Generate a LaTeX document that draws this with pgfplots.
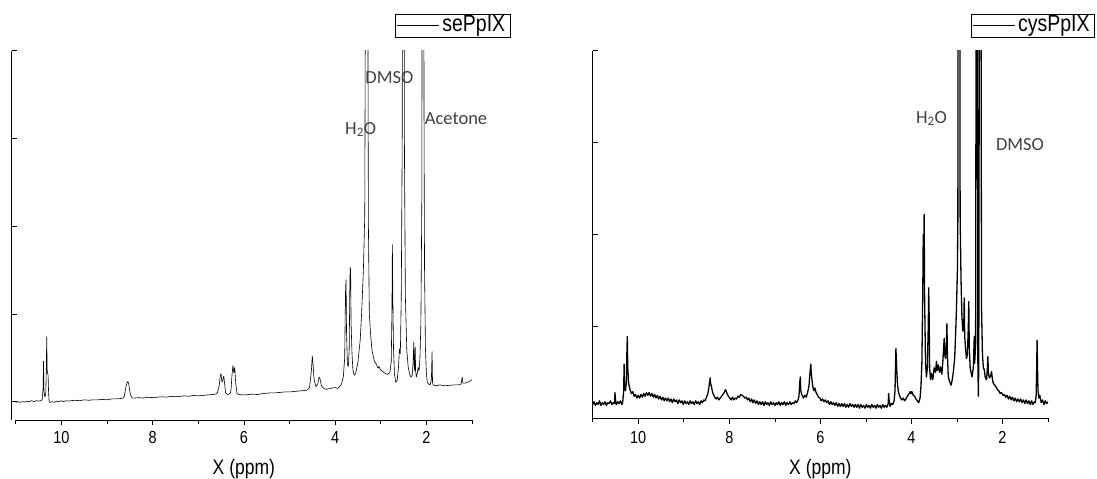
\documentclass[border=0pt]{standalone}
\usepackage{fontspec}
\setmainfont{Liberation Sans}
\newfontfamily\carlito{Carlito}
\usepackage{graphicx}
\usepackage{pgfplots}
\pgfplotsset{compat=1.18}
\newcommand{\tickfont}{\fontsize{14.5bp}{16bp}\selectfont}
\newcommand{\labfont}{\fontsize{17.5bp}{19bp}\selectfont}
\newcommand{\legfont}{\fontsize{19.5bp}{21bp}\selectfont}
\newcommand{\annfont}{\carlito\fontsize{18.5bp}{20bp}\selectfont}
\newcommand{\tall}[1]{\scalebox{1}[1.2]{#1}}
\pgfplotsset{
  nmr/.style={
    scale only axis,
    clip mode=individual,
    xmin=1, xmax=11, x dir=reverse,
    axis x line*=bottom, axis y line*=left,
    xtick={2,4,6,8,10}, minor xtick={1,3,5,7,9,11},
    ytick={0,1,2,3,4}, yticklabels={},
    xtick align=outside, ytick align=inside,
    major tick length=5.5bp, minor tick length=4bp,
    /pgf/number format/assume math mode=true,
    xticklabel={\tall{\pgfmathprintnumber{\tick}}},
    xticklabel style={font=\tickfont, anchor=base},
    xlabel={\tall{X (ppm)}},
    xlabel style={font=\labfont, at={(axis description cs:0.5,0)}, anchor=base},
    axis line style={line width=0.6bp, black},
    every tick/.style={line width=0.6bp, black},
    legend style={font=\legfont, draw=black, line width=0.5bp, anchor=north east,
      inner xsep=1.5bp, inner ysep=0.5bp,
      nodes={inner ysep=0.5bp, inner xsep=3bp, text height=16bp, text depth=5bp}},
    legend image code/.code={\draw[#1, line width=0.6bp] (0bp,0bp) -- (42bp,0bp);},
  }
}
\begin{document}
\begin{tikzpicture}
\useasboundingbox (0,0) rectangle (1097bp,479bp);
% ---------------- left panel ----------------
\begin{axis}[nmr,
  at={(15.7bp,59bp)}, anchor=south west,
  width=456.3bp, height=369.3bp,
  ymin=-0.21, ymax=4,
  axis y line shift=4bp,
  xticklabel style={yshift=-18bp},
  xlabel style={yshift=-54bp},
  legend style={at={(axis description cs:1.0833,1.100)}},
]
\addplot[black, line width=0.6bp, line join=round] coordinates {
(11.00,-0.01) (10.95,0.00) (10.90,-0.01) (10.85,0.00) (10.80,-0.005) (10.75,0.005)
(10.70,0.00) (10.65,0.01) (10.60,0.00) (10.55,0.01) (10.50,0.005) (10.45,0.01)
(10.42,0.02) (10.40,0.15) (10.39,0.46) (10.38,0.12) (10.36,0.05) (10.34,0.10)
(10.33,0.35) (10.32,0.74) (10.31,0.36) (10.30,0.32) (10.29,0.30) (10.28,0.12)
(10.27,0.02) (10.25,-0.01) (10.20,0.00) (10.15,-0.01) (10.10,0.005) (10.05,0.00)
(10.00,0.01) (9.95,0.00) (9.90,0.01) (9.85,0.005) (9.80,0.01) (9.70,0.015)
(9.60,0.01) (9.50,0.02) (9.40,0.015) (9.30,0.02) (9.20,0.02) (9.10,0.025)
(9.00,0.02) (8.90,0.03) (8.80,0.03) (8.70,0.035) (8.65,0.04) (8.62,0.06)
(8.60,0.12) (8.58,0.18) (8.56,0.21) (8.54,0.23) (8.52,0.19) (8.50,0.12)
(8.48,0.07) (8.45,0.04) (8.40,0.04) (8.30,0.045) (8.20,0.04) (8.10,0.05)
(8.00,0.045) (7.90,0.05) (7.80,0.055) (7.70,0.05) (7.60,0.06) (7.50,0.055)
(7.40,0.06) (7.30,0.065) (7.20,0.06) (7.10,0.07) (7.00,0.065) (6.90,0.07)
(6.80,0.075) (6.70,0.08) (6.62,0.085) (6.58,0.10) (6.54,0.18) (6.52,0.28)
(6.50,0.32) (6.48,0.22) (6.46,0.25) (6.44,0.29) (6.42,0.20) (6.40,0.10)
(6.35,0.08) (6.30,0.09) (6.28,0.14) (6.26,0.30) (6.24,0.41) (6.22,0.33)
(6.20,0.39) (6.18,0.22) (6.15,0.09) (6.10,0.08) (6.00,0.075) (5.90,0.08)
(5.80,0.085) (5.70,0.08) (5.60,0.09) (5.50,0.095) (5.40,0.10) (5.30,0.10)
(5.20,0.105) (5.10,0.11) (5.00,0.11) (4.90,0.115) (4.80,0.12) (4.70,0.125)
(4.62,0.13) (4.56,0.16) (4.52,0.35) (4.50,0.52) (4.48,0.40) (4.46,0.25)
(4.42,0.17) (4.38,0.20) (4.35,0.28) (4.33,0.26) (4.30,0.18) (4.25,0.15)
(4.20,0.14) (4.10,0.15) (4.00,0.16) (3.95,0.15) (3.90,0.17) (3.86,0.20)
(3.82,0.28) (3.79,0.50) (3.78,0.95) (3.77,1.30) (3.76,1.39) (3.75,0.80)
(3.73,0.42) (3.71,0.40) (3.69,0.60) (3.68,1.20) (3.67,1.53) (3.66,1.50)
(3.65,0.90) (3.63,0.55) (3.61,0.36) (3.58,0.30) (3.55,0.32) (3.50,0.45)
(3.45,0.70) (3.42,1.00) (3.38,1.50) (3.35,2.13) (3.33,6.00) (3.29,6.00)
(3.27,2.00) (3.25,1.00) (3.22,0.75) (3.19,0.58) (3.14,0.46) (3.09,0.42)
(3.06,0.38) (3.04,0.40) (3.00,0.36) (2.95,0.34) (2.90,0.32) (2.85,0.31)
(2.80,0.33) (2.77,0.45) (2.755,1.00) (2.745,1.79) (2.735,1.20) (2.72,0.60)
(2.70,0.32) (2.67,0.22) (2.64,0.24) (2.61,0.40) (2.59,0.60) (2.57,0.55)
(2.55,1.20) (2.53,2.90) (2.52,6.00) (2.49,6.00) (2.48,2.80) (2.46,1.20)
(2.43,0.60) (2.40,0.40) (2.37,0.32) (2.34,0.28) (2.31,0.30) (2.29,0.45)
(2.275,0.68) (2.265,0.40) (2.255,0.35) (2.245,0.62) (2.235,0.35) (2.22,0.28)
(2.20,0.32) (2.18,0.39) (2.16,0.35) (2.14,0.50) (2.12,0.90) (2.10,2.27)
(2.09,6.00) (2.06,6.00) (2.05,2.95) (2.04,1.50) (2.02,0.60) (2.00,0.33)
(1.98,0.22) (1.95,0.20) (1.92,0.19) (1.89,0.25) (1.875,0.57) (1.865,0.22)
(1.85,0.19) (1.80,0.18) (1.70,0.19) (1.60,0.18) (1.50,0.185) (1.40,0.19)
(1.30,0.19) (1.24,0.20) (1.215,0.28) (1.20,0.21) (1.15,0.21) (1.10,0.22)
(1.05,0.23) (1.00,0.25)
};
\addlegendentry{\tall{sePpIX}}
\node[font=\annfont, text=black!75] at (axis cs:2.81,3.69) {DMSO};
\node[font=\annfont, text=black!75] at (axis cs:3.44,3.10) {H\textsubscript{2}O};
\node[font=\annfont, text=black!75] at (axis cs:1.35,3.22) {Acetone};
\end{axis}
% ---------------- right panel ----------------
\begin{axis}[nmr,
  at={(592.7bp,60.7bp)}, anchor=south west,
  width=455.3bp, height=367.6bp,
  ymin=0, ymax=4,
  xticklabel style={yshift=-19.7bp},
  xlabel style={yshift=-55.7bp},
  legend style={at={(axis description cs:1.1017,1.1005)}},
]
\addplot[black, line width=1.3bp, line join=round] coordinates {
(11.00,0.15) (10.97,0.18) (10.94,0.14) (10.91,0.17) (10.88,0.15) (10.85,0.19)
(10.82,0.14) (10.79,0.17) (10.76,0.15) (10.73,0.18) (10.70,0.14) (10.67,0.17)
(10.64,0.16) (10.61,0.19) (10.58,0.15) (10.55,0.17) (10.52,0.16) (10.51,0.28)
(10.50,0.20) (10.48,0.15) (10.45,0.18) (10.42,0.16) (10.39,0.19) (10.36,0.15)
(10.34,0.18) (10.32,0.30) (10.31,0.59) (10.30,0.35) (10.28,0.30) (10.26,0.40)
(10.25,0.70) (10.24,0.89) (10.23,0.55) (10.21,0.38) (10.18,0.31) (10.15,0.27)
(10.12,0.29) (10.09,0.24) (10.06,0.26) (10.03,0.22) (10.00,0.25) (9.97,0.22)
(9.94,0.26) (9.91,0.23) (9.88,0.27) (9.85,0.24) (9.82,0.28) (9.79,0.25)
(9.76,0.28) (9.73,0.24) (9.70,0.27) (9.67,0.23) (9.64,0.26) (9.61,0.22)
(9.58,0.25) (9.55,0.21) (9.52,0.24) (9.49,0.20) (9.46,0.23) (9.43,0.19)
(9.40,0.22) (9.37,0.19) (9.34,0.22) (9.31,0.18) (9.28,0.21) (9.25,0.17)
(9.22,0.21) (9.19,0.18) (9.16,0.20) (9.13,0.16) (9.10,0.20) (9.07,0.17)
(9.04,0.19) (9.01,0.15) (8.98,0.19) (8.95,0.16) (8.92,0.18) (8.89,0.15)
(8.86,0.19) (8.83,0.16) (8.80,0.18) (8.77,0.15) (8.74,0.19) (8.71,0.16)
(8.68,0.18) (8.65,0.15) (8.62,0.19) (8.59,0.17) (8.56,0.20) (8.53,0.19)
(8.50,0.23) (8.47,0.27) (8.45,0.33) (8.43,0.40) (8.42,0.44) (8.41,0.38)
(8.39,0.34) (8.37,0.29) (8.35,0.26) (8.32,0.23) (8.29,0.21) (8.26,0.23)
(8.23,0.20) (8.20,0.22) (8.17,0.24) (8.14,0.26) (8.11,0.28) (8.09,0.31)
(8.07,0.30) (8.05,0.27) (8.02,0.24) (7.99,0.22) (7.96,0.20) (7.93,0.23)
(7.90,0.20) (7.87,0.22) (7.84,0.21) (7.81,0.24) (7.78,0.23) (7.75,0.26)
(7.72,0.25) (7.69,0.24) (7.66,0.22) (7.63,0.23) (7.60,0.20) (7.57,0.22)
(7.54,0.18) (7.51,0.21) (7.48,0.17) (7.45,0.20) (7.42,0.16) (7.39,0.19)
(7.36,0.15) (7.33,0.18) (7.30,0.15) (7.27,0.18) (7.24,0.14) (7.21,0.18)
(7.18,0.15) (7.15,0.17) (7.12,0.14) (7.09,0.18) (7.06,0.15) (7.03,0.17)
(7.00,0.14) (6.97,0.17) (6.94,0.15) (6.91,0.18) (6.88,0.14) (6.85,0.17)
(6.82,0.15) (6.79,0.18) (6.76,0.14) (6.73,0.17) (6.70,0.15) (6.67,0.18)
(6.64,0.15) (6.61,0.17) (6.58,0.16) (6.55,0.19) (6.52,0.17) (6.49,0.20)
(6.47,0.24) (6.45,0.40) (6.44,0.45) (6.43,0.30) (6.41,0.26) (6.39,0.24)
(6.37,0.22) (6.34,0.25) (6.31,0.23) (6.28,0.28) (6.25,0.35) (6.23,0.48)
(6.21,0.59) (6.20,0.50) (6.18,0.40) (6.16,0.33) (6.14,0.30) (6.12,0.33)
(6.10,0.29) (6.07,0.26) (6.04,0.23) (6.01,0.22) (5.98,0.19) (5.95,0.21)
(5.92,0.18) (5.89,0.20) (5.86,0.17) (5.83,0.19) (5.80,0.15) (5.77,0.18)
(5.74,0.15) (5.71,0.17) (5.68,0.14) (5.65,0.17) (5.62,0.13) (5.59,0.16)
(5.56,0.13) (5.53,0.16) (5.50,0.13) (5.47,0.16) (5.44,0.12) (5.41,0.15)
(5.38,0.12) (5.35,0.16) (5.32,0.13) (5.29,0.15) (5.26,0.12) (5.23,0.15)
(5.20,0.12) (5.17,0.15) (5.14,0.11) (5.11,0.15) (5.08,0.12) (5.05,0.14)
(5.02,0.11) (4.99,0.15) (4.96,0.12) (4.93,0.14) (4.90,0.11) (4.87,0.15)
(4.84,0.12) (4.81,0.14) (4.78,0.11) (4.75,0.15) (4.72,0.12) (4.69,0.14)
(4.66,0.11) (4.63,0.15) (4.60,0.12) (4.57,0.14) (4.54,0.12) (4.51,0.16)
(4.50,0.27) (4.49,0.20) (4.47,0.13) (4.44,0.16) (4.41,0.15) (4.38,0.19)
(4.36,0.30) (4.35,0.55) (4.34,0.76) (4.33,0.62) (4.31,0.40) (4.29,0.30)
(4.27,0.26) (4.24,0.22) (4.21,0.20) (4.18,0.22) (4.15,0.19) (4.12,0.21)
(4.09,0.24) (4.06,0.26) (4.03,0.29) (4.01,0.27) (3.99,0.29) (3.96,0.25)
(3.93,0.24) (3.90,0.21) (3.87,0.19) (3.84,0.17) (3.81,0.22) (3.79,0.35)
(3.77,0.60) (3.75,1.40) (3.74,2.00) (3.73,1.80) (3.72,2.22) (3.71,1.30)
(3.69,0.60) (3.67,0.45) (3.65,0.55) (3.63,1.00) (3.62,1.42) (3.61,1.10)
(3.60,0.55) (3.58,0.42) (3.56,0.49) (3.53,0.42) (3.50,0.55) (3.47,0.50)
(3.45,0.62) (3.43,0.52) (3.41,0.58) (3.38,0.50) (3.36,0.56) (3.33,0.48)
(3.31,0.62) (3.28,0.87) (3.27,0.70) (3.25,0.65) (3.23,0.85) (3.22,1.03)
(3.21,0.70) (3.19,0.45) (3.16,0.40) (3.13,0.36) (3.11,0.40) (3.08,0.50)
(3.05,0.65) (3.03,0.90) (3.01,1.20) (2.99,1.60) (2.98,2.14) (2.97,6.00)
(2.94,6.00) (2.93,2.20) (2.91,1.50) (2.89,1.10) (2.87,0.95) (2.85,1.00)
(2.84,1.31) (2.83,0.90) (2.81,0.75) (2.79,0.65) (2.77,0.70) (2.75,1.00)
(2.74,1.27) (2.73,0.80) (2.71,0.55) (2.69,0.50) (2.67,0.45) (2.64,0.55)
(2.62,0.89) (2.61,0.60) (2.59,0.80) (2.575,6.00) (2.555,6.00) (2.54,0.60)
(2.53,0.24) (2.52,0.60) (2.505,6.00) (2.475,6.00) (2.46,1.20) (2.44,0.70)
(2.42,0.55) (2.40,0.53) (2.38,0.45) (2.35,0.42) (2.33,0.55) (2.32,0.67)
(2.31,0.50) (2.29,0.44) (2.27,0.45) (2.25,0.48) (2.24,0.51) (2.22,0.42)
(2.20,0.38) (2.17,0.36) (2.14,0.34) (2.11,0.31) (2.08,0.30) (2.05,0.27)
(2.02,0.28) (1.99,0.25) (1.96,0.26) (1.93,0.23) (1.90,0.25) (1.87,0.21)
(1.84,0.24) (1.81,0.20) (1.78,0.23) (1.75,0.19) (1.72,0.22) (1.69,0.18)
(1.66,0.21) (1.63,0.18) (1.60,0.21) (1.57,0.17) (1.54,0.20) (1.51,0.16)
(1.48,0.20) (1.45,0.16) (1.42,0.19) (1.39,0.15) (1.36,0.19) (1.33,0.15)
(1.30,0.18) (1.28,0.17) (1.26,0.25) (1.25,0.50) (1.24,0.85) (1.23,0.55)
(1.22,0.30) (1.20,0.22) (1.18,0.25) (1.15,0.17) (1.12,0.20) (1.09,0.15)
(1.06,0.19) (1.03,0.16) (1.00,0.18)
};
\addlegendentry{\tall{cysPpIX}}
\node[font=\annfont, text=black!75] at (axis cs:3.56,3.26) {H\textsubscript{2}O};
\node[font=\annfont, text=black!75] at (axis cs:1.615,2.98) {DMSO};
\end{axis}
\end{tikzpicture}
\end{document}
